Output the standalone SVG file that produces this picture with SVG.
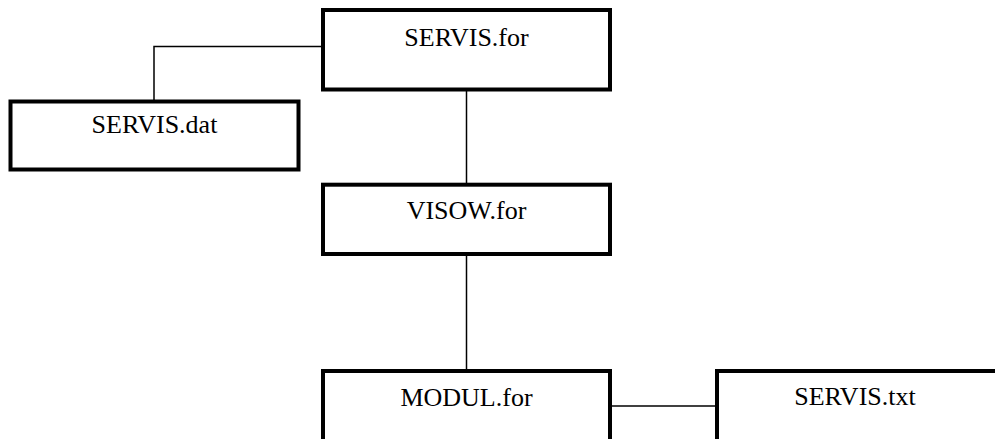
<svg xmlns="http://www.w3.org/2000/svg" width="995" height="439" viewBox="0 0 995 439">
<style>
.box{fill:#fff;stroke:#000;stroke-width:4}
.con{fill:none;stroke:#000;stroke-width:1.5}
</style>
<rect width="995" height="439" fill="#fff"/>
<g id="connectors">
<polyline class="con" points="323,46.5 154,46.5 154,101.5"/>
<line class="con" x1="466.5" y1="90" x2="466.5" y2="185"/>
<line class="con" x1="466.5" y1="254" x2="466.5" y2="371"/>
<line class="con" x1="610" y1="406" x2="717" y2="406"/>
</g>
<g font-family="Times New Roman, Liberation Serif, serif" font-size="26" text-anchor="middle" fill="#000">
<g id="servis_for">
<rect class="box" x="323" y="10" width="287" height="79.5"/>
<text x="466.5" y="46">SERVIS.for</text>
</g>
<g id="servis_dat">
<rect class="box" x="10.5" y="101.5" width="288" height="68"/>
<text x="154.5" y="133">SERVIS.dat</text>
</g>
<g id="visow_for">
<rect class="box" x="323" y="184.7" width="287" height="69.3"/>
<text x="466.5" y="219">VISOW.for</text>
</g>
<g id="modul_for">
<rect class="box" x="323" y="371" width="287" height="80"/>
<text x="466.5" y="405.5">MODUL.for</text>
</g>
<g id="servis_txt">
<rect class="box" x="717" y="371" width="287" height="80"/>
<text x="855" y="405">SERVIS.txt</text>
</g>
</g>
</svg>
